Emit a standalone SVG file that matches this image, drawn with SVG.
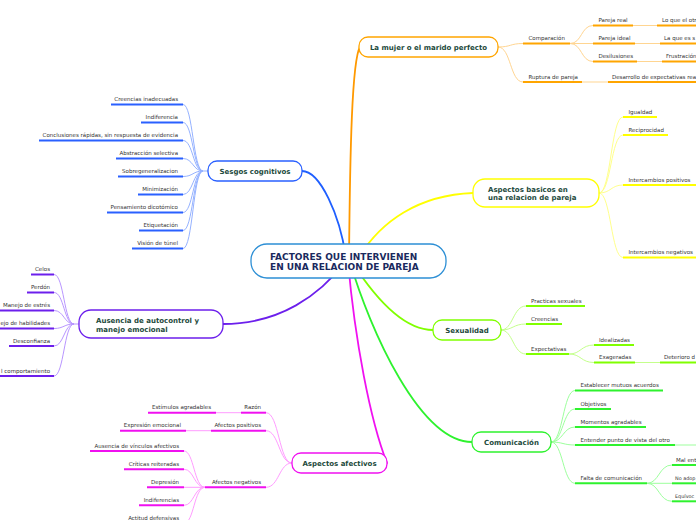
<svg xmlns="http://www.w3.org/2000/svg" width="696" height="520" viewBox="0 0 696 520">
<style>
.t{font-family:"DejaVu Sans",Verdana,sans-serif;font-size:5.5px;fill:#333}
.s{font-size:4.9px}
.e{text-anchor:end}
.n{font-family:"DejaVu Sans",Verdana,sans-serif;font-weight:bold;font-size:7px;fill:#1d4a3c}
.m{text-anchor:middle}
.k{font-family:"DejaVu Sans",Verdana,sans-serif;font-weight:bold;font-size:9px;fill:#1a2a5e}
.box{fill:#fff;stroke-width:1.3}
.u{fill:none;stroke-width:2}
.c{fill:none;stroke-width:1}
.mc{fill:none;stroke-width:1.8;stroke-linecap:round}
.or{stroke:#ffa500}.orl{stroke:#ffd591}
.bl{stroke:#2a60ff}.bll{stroke:#95b2ff}
.ye{stroke:#ffff00}.yel{stroke:#ffff8c}
.pu{stroke:#6c1fec}.pul{stroke:#b996ff}
.li{stroke:#80ff00}.lil{stroke:#c4ff8c}
.gr{stroke:#2ef22e}.grl{stroke:#9dff9d}
.mg{stroke:#f010f0}.mgl{stroke:#ff9cff}
</style>
<rect width="696" height="520" fill="#fff"/>
<g id="connectors">
<path class="mc" stroke="#ff9900" d="M349,260 C350,150 352,60 360,47"/>
<path class="mc" stroke="#1f5fff" d="M346,258 C340,215 320,171 302,171"/>
<path class="mc" stroke="#ffff00" d="M356,262 C380,220 420,195 473,193"/>
<path class="mc" stroke="#6c1fec" d="M345,262 C320,295 280,324 223,324"/>
<path class="mc" stroke="#80ff00" d="M352,262 C370,290 400,330 433,330"/>
<path class="mc" stroke="#2ef22e" d="M350,262 C370,330 420,442 472,442"/>
<path class="mc" stroke="#f010f0" d="M348,262 C355,340 370,420 387,463"/>
<g class="c orl">
<path d="M498,47 C511,47 510,43.5 523,43.5"/>
<path d="M498,47 C511,47 510,82 523,82"/>
<path d="M570,43.5 C582,43.5 581,25.5 593,25.5"/>
<path d="M570,43.5 H593"/>
<path d="M570,43.5 C582,43.5 581,61.5 593,61.5"/>
<path d="M633,25.5 H657 M635,43.5 H660 M637,61.5 H662 M582,82 H608"/>
</g>
<g class="c bll">
<path d="M208,171 H203"/>
<path d="M203,171 C193,171 193,104.5 183,104.5"/>
<path d="M203,171 C193,171 193,122.5 183,122.5"/>
<path d="M203,171 C193,171 193,140.5 183,140.5"/>
<path d="M203,171 C193,171 193,158.5 183,158.5"/>
<path d="M203,171 C193,171 193,176.5 183,176.5"/>
<path d="M203,171 C193,171 193,194.5 183,194.5"/>
<path d="M203,171 C193,171 193,212.5 183,212.5"/>
<path d="M203,171 C193,171 193,230.5 183,230.5"/>
<path d="M203,171 C193,171 193,248.5 183,248.5"/>
</g>
<g class="c pul">
<path d="M79,324 H74"/>
<path d="M74,324 C64,324 64,274.5 54,274.5"/>
<path d="M74,324 C64,324 64,292.5 54,292.5"/>
<path d="M74,324 C64,324 64,310.5 54,310.5"/>
<path d="M74,324 C64,324 64,328.5 54,328.5"/>
<path d="M74,324 C64,324 64,346 54,346"/>
<path d="M74,324 C64,324 64,376 54,376"/>
</g>
<g class="c yel">
<path d="M599,193 C611,193 611,117 623,117"/>
<path d="M599,193 C611,193 611,135 623,135"/>
<path d="M599,193 C611,193 611,185 623,185"/>
<path d="M599,193 C611,193 611,257.5 623,257.5"/>
</g>
<g class="c lil">
<path d="M501,330 C513,330 513,306 526,306"/>
<path d="M501,330 C513,330 513,324 526,324"/>
<path d="M501,330 C513,330 513,354 526,354"/>
<path d="M569,354 C581,354 581,345 594,345"/>
<path d="M569,354 C581,354 581,362.5 594,362.5"/>
<path d="M635,362.5 H660"/>
</g>
<g class="c grl">
<path d="M551,442 C563,442 563,390.5 575,390.5"/>
<path d="M551,442 C563,442 563,409 575,409"/>
<path d="M551,442 C563,442 563,427 575,427"/>
<path d="M551,442 C563,442 563,445 575,445"/>
<path d="M551,442 C563,442 563,483.3 575,483.3"/>
<path d="M647,483.3 C659,483.3 659,465 672,465"/>
<path d="M647,483.3 H672"/>
<path d="M647,483.3 C659,483.3 659,501.3 672,501.3"/>
<path d="M675,445 H696"/>
</g>
<g class="c mgl">
<path d="M292,463 C279,463 279,412.7 266,412.7"/>
<path d="M292,463 C279,463 279,430.7 266,430.7"/>
<path d="M292,463 C279,463 279,487.3 266,487.3"/>
<path d="M241,412.7 H216 M211,430.7 H186"/>
<path d="M205,487.3 C194,487.3 194,451 184,451"/>
<path d="M205,487.3 C194,487.3 194,469.3 184,469.3"/>
<path d="M205,487.3 H184"/>
<path d="M205,487.3 C194,487.3 194,505.3 184,505.3"/>
<path d="M205,487.3 C194,487.3 194,523.3 184,523.3"/>
</g>
</g>
<g id="central">
<rect class="box" x="251" y="244" width="195" height="34" rx="16" stroke="#2d8fd5"/>
<text class="k" x="270" y="259.5">FACTORES QUE INTERVIENEN</text>
<text class="k" x="270" y="269.5">EN UNA RELACION DE PAREJA</text>
</g>
<g id="mujer">
<rect class="box or" x="359" y="37" width="139" height="20" rx="9"/>
<text class="n m" x="428.5" y="49.7">La mujer o el marido perfecto</text>
</g>
<g id="sesgos">
<rect class="box bl" x="208" y="161" width="94" height="20" rx="9"/>
<text class="n m" x="255" y="173.7">Sesgos cognitivos</text>
</g>
<g id="basicos">
<rect class="box ye" x="473" y="179" width="126" height="28" rx="12"/>
<text class="n" x="488" y="191.5">Aspectos basicos en</text>
<text class="n" x="488" y="200">una relacion de pareja</text>
</g>
<g id="ausencia">
<rect class="box pu" x="79" y="310" width="144" height="28" rx="12"/>
<text class="n" x="96" y="322.7">Ausencia de autocontrol y</text>
<text class="n" x="96" y="331.7">manejo emocional</text>
</g>
<g id="sexualidad">
<rect class="box li" x="433" y="320" width="68" height="20" rx="9"/>
<text class="n m" x="467" y="332.7">Sexualidad</text>
</g>
<g id="comunicacion">
<rect class="box gr" x="472" y="432" width="79" height="20" rx="9"/>
<text class="n m" x="511.5" y="444.7">Comunicación</text>
</g>
<g id="afectivos">
<rect class="box mg" x="292" y="453" width="95" height="20" rx="9"/>
<text class="n m" x="339.5" y="465.7">Aspectos afectivos</text>
</g>
<g id="comparacion"><path class="u or" d="M523,43.5 H570"/><text class="t" x="528.5" y="40">Comparación</text></g>
<g id="ruptura"><path class="u or" d="M523,82 H582"/><text class="t" x="528.5" y="78.5">Ruptura de pareja</text></g>
<g id="pareja-real"><path class="u or" d="M593,25.5 H633"/><text class="t" x="598.5" y="22">Pareja real</text></g>
<g id="pareja-ideal"><path class="u or" d="M593,43.5 H635"/><text class="t" x="598.5" y="40">Pareja ideal</text></g>
<g id="desilusiones"><path class="u or" d="M593,61.5 H637"/><text class="t" x="598.5" y="58">Desilusiones</text></g>
<g id="lo-que"><path class="u or" d="M657,25.5 H696"/><text class="t" x="662" y="22">Lo que el otr</text></g>
<g id="la-que"><path class="u or" d="M660,43.5 H696"/><text class="t" x="664" y="40">La que es s</text></g>
<g id="frustracion"><path class="u or" d="M662,61.5 H696"/><text class="t" x="666" y="58">Frustración</text></g>
<g id="desarrollo"><path class="u or" d="M608,82 H696"/><text class="t" x="612" y="78.5">Desarrollo de expectativas rea</text></g>
<g id="creencias-inadecuadas"><path class="u bl" d="M111,104.5 H183"/><text class="t e" x="178" y="101">Creencias inadecuadas</text></g>
<g id="indiferencia"><path class="u bl" d="M141,122.5 H183"/><text class="t e" x="178" y="119">Indiferencia</text></g>
<g id="conclusiones"><path class="u bl" d="M39,140.5 H183"/><text class="t e" x="178" y="137">Conclusiones rápidas, sin respuesta de evidencia</text></g>
<g id="abstraccion"><path class="u bl" d="M116,158.5 H183"/><text class="t e" x="178" y="155">Abstracción selectiva</text></g>
<g id="sobregeneralizacion"><path class="u bl" d="M118,176.5 H183"/><text class="t e" x="178" y="173">Sobregeneralizacion</text></g>
<g id="minimizacion"><path class="u bl" d="M138,194.5 H183"/><text class="t e" x="178" y="191">Minimización</text></g>
<g id="pensamiento"><path class="u bl" d="M107,212.5 H183"/><text class="t e" x="178" y="209">Pensamiento dicotómico</text></g>
<g id="etiquetacion"><path class="u bl" d="M139,230.5 H183"/><text class="t e" x="178" y="227">Etiquetación</text></g>
<g id="vision"><path class="u bl" d="M132,248.5 H183"/><text class="t e" x="178" y="245">Visión de túnel</text></g>
<g id="celos"><path class="u pu" d="M31,274.5 H54"/><text class="t e" x="50" y="271">Celos</text></g>
<g id="perdon"><path class="u pu" d="M27,292.5 H54"/><text class="t e" x="50" y="289">Perdón</text></g>
<g id="estres"><path class="u pu" d="M0,310.5 H54"/><text class="t e" x="50" y="307">Manejo de estrés</text></g>
<g id="habilidades"><path class="u pu" d="M0,328.5 H54"/><text class="t e" x="50" y="325" textLength="49.5" lengthAdjust="spacingAndGlyphs">ejo de habilidades</text></g>
<g id="desconfianza"><path class="u pu" d="M9,346 H54"/><text class="t e" x="50" y="342.5">Desconfianza</text></g>
<g id="comportamiento"><path class="u pu" d="M0,376 H54"/><text class="t e" x="50" y="372.5">l comportamiento</text></g>
<g id="igualdad"><path class="u ye" d="M623,117 H657"/><text class="t" x="628.5" y="113.5">Igualdad</text></g>
<g id="reciprocidad"><path class="u ye" d="M623,135 H668"/><text class="t" x="628.5" y="131.5">Reciprocidad</text></g>
<g id="positivos"><path class="u ye" d="M623,185 H696"/><text class="t" x="628.5" y="181.5">Intercambios positivos</text></g>
<g id="negativos"><path class="u ye" d="M623,257.5 H696"/><text class="t" x="628.5" y="254">Intercambios negativos</text></g>
<g id="practicas"><path class="u li" d="M526,306 H585"/><text class="t" x="531" y="302.5">Practicas sexuales</text></g>
<g id="creencias"><path class="u li" d="M526,324 H562"/><text class="t" x="531" y="320.5">Creencias</text></g>
<g id="expectativas"><path class="u li" d="M526,354 H569"/><text class="t" x="531" y="350.5">Expectativas</text></g>
<g id="idealizadas"><path class="u li" d="M594,345 H634"/><text class="t" x="599" y="341.5">Idealizadas</text></g>
<g id="exageradas"><path class="u li" d="M594,362.5 H635"/><text class="t" x="599" y="359">Exageradas</text></g>
<g id="deterioro"><path class="u li" d="M660,362.5 H696"/><text class="t" x="664" y="359">Deterioro d</text></g>
<g id="acuerdos"><path class="u gr" d="M575,390.5 H663"/><text class="t" x="580.5" y="387">Establecer mutuos acuerdos</text></g>
<g id="objetivos"><path class="u gr" d="M575,409 H611"/><text class="t" x="580.5" y="405.5">Objetivos</text></g>
<g id="momentos"><path class="u gr" d="M575,427 H646"/><text class="t" x="580.5" y="423.5">Momentos agradables</text></g>
<g id="entender"><path class="u gr" d="M575,445 H675"/><text class="t" x="580.5" y="441.5">Entender punto de vista del otro</text></g>
<g id="falta"><path class="u gr" d="M575,483.3 H647"/><text class="t" x="580.5" y="479.8">Falta de comunicación</text></g>
<g id="mal-ent"><path class="u gr" d="M672,465 H696"/><text class="t" x="676" y="461.5">Mal ent</text></g>
<g id="no-adop"><path class="u gr" d="M672,483.3 H696"/><text class="t s" x="675" y="479.8">No adop</text></g>
<g id="equivoc"><path class="u gr" d="M672,501.3 H696"/><text class="t s" x="675" y="497.8">Equívoc</text></g>
<g id="razon"><path class="u mg" d="M241,412.7 H266"/><text class="t e" x="261" y="409.2">Razón</text></g>
<g id="estimulos"><path class="u mg" d="M148,412.7 H216"/><text class="t e" x="211" y="409.2">Estímulos agradables</text></g>
<g id="afectos-positivos"><path class="u mg" d="M211,430.7 H266"/><text class="t e" x="261" y="427.2">Afectos positivos</text></g>
<g id="expresion"><path class="u mg" d="M120,430.7 H186"/><text class="t e" x="181" y="427.2">Expresión emocional</text></g>
<g id="afectos-negativos"><path class="u mg" d="M205,487.3 H266"/><text class="t e" x="261" y="483.8">Afectos negativos</text></g>
<g id="vinculos"><path class="u mg" d="M90,451 H184"/><text class="t e" x="179" y="447.5">Ausencia de vínculos afectivos</text></g>
<g id="criticas"><path class="u mg" d="M124,469.3 H184"/><text class="t e" x="179" y="465.8">Críticas reiteradas</text></g>
<g id="depresion"><path class="u mg" d="M147,487.3 H184"/><text class="t e" x="179" y="483.8">Depresión</text></g>
<g id="indiferencias"><path class="u mg" d="M139,505.3 H184"/><text class="t e" x="179" y="501.8">Indiferencias</text></g>
<g id="actitud"><path class="u mg" d="M122,523.3 H184"/><text class="t e" x="179" y="519.8">Actitud defensivas</text></g>
</svg>
